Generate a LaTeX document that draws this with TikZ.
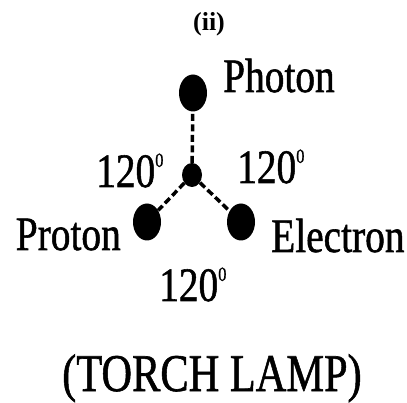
\documentclass[tikz,border=0pt]{standalone}
\usepackage{fontspec}
\setmainfont{Liberation Serif}
\newfontfamily\heavyserif[FakeBold=1.2]{Liberation Serif}
\usepackage{graphicx}
\usetikzlibrary{shapes.geometric,positioning}

\newcommand{\narrowtext}[1]{\scalebox{0.82}[1]{#1}}
\newcommand{\angletext}{\narrowtext{120}\raisebox{0.42em}{\fontsize{20}{20}\selectfont\narrowtext{0}}}

\begin{document}
\begin{tikzpicture}[
        x=1pt, y=-1pt,
        ball/.style={
            ellipse, draw=none, fill=black,
            minimum width=28pt, minimum height=37pt, inner sep=0pt
        },
        hub/.style={
            ellipse, draw=none, fill=black,
            minimum width=20pt, minimum height=24pt, inner sep=0pt
        },
        bond/.style={line width=3.5pt, dash pattern=on 7pt off 3.5pt},
        bigtext/.style={inner sep=0pt, font=\heavyserif\fontsize{48}{48}\selectfont},
        titletext/.style={inner sep=0pt, font=\fontsize{20}{20}\selectfont\bfseries}
    ]
    \useasboundingbox (0,0) rectangle (407,403);

    % Title
    \node[titletext, anchor=base] (title) at (209,31) {\scalebox{1.3}[1.3]{(ii)}};

    % Balls
    \node[hub] (centre) at (192,175) {};
    \node[ball] (photon) at (193,93) {};
    \node[ball] (proton) at (147,222) {};
    \node[ball] (electron) at (241,222) {};

    % Bonds
    \draw[bond] (centre) -- (photon);
    \draw[bond] (centre) -- (proton);
    \draw[bond] (centre) -- (electron);

    % Names
    \node[bigtext, anchor=base west] (photonname) at (223,92) {\narrowtext{Photon}};
    \node[bigtext, anchor=base east] (protonname) at (121,250) {\narrowtext{Proton}};
    \node[bigtext, anchor=base west] (electronname) at (271,252) {\narrowtext{Electron}};

    % Angles
    \node[bigtext, anchor=base west] (angleleft) at (96,187) {\angletext};
    \node[bigtext, anchor=base west] (angleright) at (237,183) {\angletext};
    \node[bigtext, anchor=base west] (anglebottom) at (159,301) {\angletext};

    % Caption
    \node[inner sep=0pt, anchor=base, font=\heavyserif\fontsize{53}{53}\selectfont] (caption) at (212,391) {\scalebox{0.8}[1]{(TORCH LAMP)}};
\end{tikzpicture}
\end{document}
